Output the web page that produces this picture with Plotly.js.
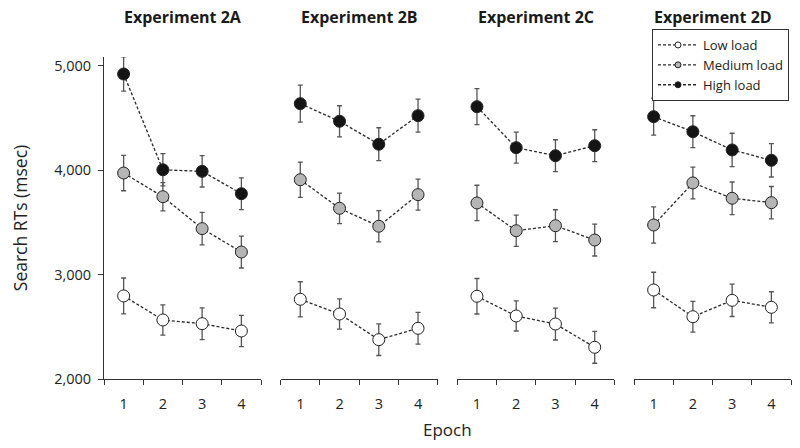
<!DOCTYPE html>
<html>
<head>
<meta charset="utf-8">
<script src="https://cdn.plot.ly/plotly-3.0.1.min.js"></script>
<style>html,body{margin:0;padding:0;background:#fff;}#chart{width:800px;height:448px;}</style>
</head>
<body>
<div id="chart"></div>
<script>
const epochs = [1, 2, 3, 4];
const experimentTitles = ['Experiment 2A', 'Experiment 2B', 'Experiment 2C', 'Experiment 2D'];
const seriesNames = ['Low load', 'Medium load', 'High load'];
const yTickVals = [2000, 3000, 4000, 5000];

// Experiment 2A
const lowA = [2796, 2566, 2530, 2460];
const lowAErr = [172, 145, 152, 150];
const medA = [3974, 3747, 3441, 3217];
const medAErr = [170, 135, 156, 153];
const highA = [4923, 4005, 3990, 3776];
const highAErr = [165, 155, 150, 152];

// Experiment 2B
const lowB = [2764, 2623, 2377, 2486];
const lowBErr = [168, 145, 152, 152];
const medB = [3910, 3636, 3464, 3767];
const medBErr = [169, 146, 150, 149];
const highB = [4639, 4470, 4250, 4524];
const highBErr = [177, 149, 158, 158];

// Experiment 2C
const lowC = [2793, 2604, 2527, 2304];
const lowCErr = [170, 144, 153, 153];
const medC = [3687, 3421, 3469, 3332];
const medCErr = [170, 149, 153, 153];
const highC = [4610, 4217, 4140, 4236];
const highCErr = [173, 149, 153, 153];

// Experiment 2D
const lowD = [2853, 2597, 2754, 2687];
const lowDErr = [170, 147, 155, 149];
const medD = [3476, 3879, 3732, 3690];
const medDErr = [174, 152, 156, 155];
const highD = [4514, 4370, 4195, 4096];
const highDErr = [177, 153, 160, 160];

const panels = [
  [[lowA, lowAErr], [medA, medAErr], [highA, highAErr]],
  [[lowB, lowBErr], [medB, medBErr], [highB, highBErr]],
  [[lowC, lowCErr], [medC, medCErr], [highC, highCErr]],
  [[lowD, lowDErr], [medD, medDErr], [highD, highDErr]]
];

const fills = ['#ffffff', '#b5b5b5', '#141414'];
const FONT = 'Open Sans, Noto Sans, sans-serif';
const lineCol = '#2a2a2a';

const traces = [];
panels.forEach((panel, p) => {
  const xa = p === 0 ? 'x' : 'x' + (p + 1);
  const ya = p === 0 ? 'y' : 'y' + (p + 1);
  panel.forEach((s, i) => {
    traces.push({
      type: 'scatter', mode: 'lines+markers',
      x: epochs, y: s[0], xaxis: xa, yaxis: ya,
      showlegend: false, cliponaxis: false,
      line: {color: lineCol, width: 1.3, dash: '3px,2px'},
      marker: {size: 12, color: fills[i], line: {color: '#222', width: 1}},
      error_y: {type: 'data', array: s[1], visible: true, color: '#555', thickness: 1.3, width: 2.5}
    });
  });
});
// legend entries
seriesNames.forEach((n, i) => {
  traces.push({
    type: 'scatter', mode: 'lines+markers', name: n,
    x: [null], y: [null], xaxis: 'x', yaxis: 'y',
    line: {color: lineCol, width: 1.3, dash: '3px,2px'},
    marker: {size: 6, color: fills[i], line: {color: '#222', width: 1}}
  });
});

const plotW = 687, gap = (plotW - 4 * 157) / 3;
const layout = {
  width: 800, height: 448,
  margin: {l: 104, r: 9, t: 57, b: 69},
  paper_bgcolor: '#fff', plot_bgcolor: '#fff',
  font: {family: FONT, color: '#222', size: 14},
  showlegend: true,
  legend: {
    x: (652 - 104) / plotW, y: (379 - 29) / 322, xanchor: 'left', yanchor: 'top',
    bordercolor: '#333', borderwidth: 1, bgcolor: '#fff',
    font: {family: FONT, size: 13, color: '#222'},
    itemwidth: 40, tracegroupgap: 0
  },
  annotations: []
};
for (let p = 0; p < 4; p++) {
  const sfx = p === 0 ? '' : String(p + 1);
  const d0 = p * (157 + gap) / plotW;
  const d1 = (p * (157 + gap) + 157) / plotW;
  layout['xaxis' + sfx] = {
    domain: [d0, d1], anchor: 'y' + sfx, range: [0.5, 4.5],
    tickvals: epochs, ticks: '', showline: true, linecolor: '#333', linewidth: 1,
    showgrid: false, zeroline: false, fixedrange: true,
    tickfont: {family: FONT, size: 14.5, color: '#222'},
    ticklabelstandoff: 12,
    minor: {tickvals: [0.5, 1.5, 2.5, 3.5, 4.5], ticks: 'outside', ticklen: 5, tickcolor: '#333', tickwidth: 1, showgrid: false}
  };
  layout['yaxis' + sfx] = {
    domain: [0, 1], anchor: 'x' + sfx, range: [2000, 5086],
    visible: p === 0, showline: p === 0, linecolor: '#333', linewidth: 1,
    showgrid: false, zeroline: false,
    tickvals: yTickVals, tickformat: ',d', ticks: 'outside', ticklen: 5, tickcolor: '#333',
    tickfont: {family: FONT, size: 14.5, color: '#222'},
    ticklabelstandoff: 4
  };
  layout.annotations.push({
    text: '<b>' + experimentTitles[p] + '</b>', xref: 'x' + sfx + ' domain', x: 0.5,
    yref: 'paper', y: (379 - 17) / 322, xanchor: 'center', yanchor: 'middle',
    showarrow: false, font: {family: FONT, size: 16, color: '#1a1a1a'}
  });
}
layout.yaxis.title = {text: 'Search RTs (msec)', font: {family: FONT, size: 17.5, color: '#222'}, standoff: 22};
layout.annotations.push({
  text: 'Epoch', xref: 'paper', x: (447 - 104) / plotW, yref: 'paper', y: (379 - 430) / 322,
  xanchor: 'center', yanchor: 'middle', showarrow: false, font: {family: FONT, size: 17, color: '#222'}
});

Plotly.newPlot('chart', traces, layout, {displayModeBar: false, staticPlot: true});
</script>
</body>
</html>
